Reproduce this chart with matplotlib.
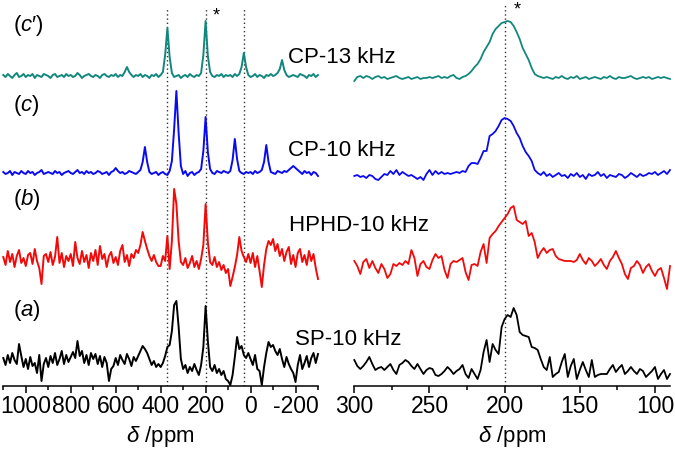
import numpy as np
import matplotlib
matplotlib.use('Agg')
from matplotlib import pyplot as plt

plt.rcParams['font.family'] = ['Liberation Sans', 'DejaVu Sans']
plt.rcParams['mathtext.fontset'] = 'custom'
plt.rcParams['mathtext.it'] = 'Liberation Sans:italic'
plt.rcParams['mathtext.rm'] = 'Liberation Sans'
plt.rcParams['axes.unicode_minus'] = False

# wide scan: 1100 .. -300 ppm, one point every 10 ppm
ppm_wide = np.linspace(1100, -300, 141)
# isotropic region: 300 .. 90 ppm, one point every 2 ppm
ppm_zoom = np.linspace(300, 90, 106)

labels = ["CP-13 kHz", "CP-10 kHz", "HPHD-10 kHz", "SP-10 kHz"]
panel_tags = ["c′", "c", "b", "a"]
colors = ["#12877d", "#0a0af0", "#f20a0a", "#000000"]

# intensities (arbitrary units), top trace first
wide_cp13 = [1, -1, 2, 0, -2, 1, 3, -1, 0, 2,
             -1, 1, 0, 2, -2, 1, 0, -1, 2, 1,
             0, -2, 1, 2, -1, 0, 1, -1, 2, 0,
             1, -1, 0, 3, 1, -2, 0, 1, 2, 0,
             -1, 1, 0, -2, 1, 2, 0, -1, 1, 0,
             2, -1, 1, 0, 4, 9, 4, 1, -1, 1,
             0, 2, -1, 1, 0, -2, 1, 0, 2, -1,
             1, 4, 21, 48, 19, 3, -1, 0, 1, -2,
             0, 1, -1, 2, 0, -1, 1, 0, 3, 21,
             55, 20, 4, 0, -1, 1, 0, 2, -1, 1,
             0, 1, -1, 2, 0, 2, 9, 23, 9, 1,
             -1, 0, 2, -1, 1, 0, -2, 1, 0, 2,
             0, 1, 3, 7, 16, 6, 1, -1, 0, 1,
             0, -1, 2, 1, 0, -2, 1, 0, 2, -1, 1]
wide_cp10 = [1, -1, 0, 2, -2, 1, 0, -1, 2, 0,
             -1, 2, 0, 1, -2, 0, 1, 3, -1, 0,
             1, 0, -1, 2, 0, 1, -2, 0, 1, 2,
             0, -1, 1, 3, 0, 1, -1, 2, 0, 1,
             -1, 0, 2, 1, -1, 0, 1, -2, 1, 2,
             5, 2, 0, 1, -1, 0, 2, 1, 0, -1,
             1, 3, 11, 26, 11, 1, -1, 0, 1, -2,
             0, 1, -1, -2, 2, 12, 44, 82, 40, 7,
             -1, 2, -3, 0, 1, -2, 0, 1, 4, 22,
             56, 21, 4, 0, -1, 2, 1, 0, 2, 1,
             0, 2, 13, 34, 14, 2, 0, -1, 1, 0,
             1, -1, 2, 0, 1, 3, 11, 28, 11, 1,
             0, -1, 2, 1, 0, 2, 1, 3, 5, 7,
             5, 3, 1, -1, 2, 0, 1, -2, 1, 0, -3]
wide_hphd = [2, -6, 8, -3, 5, -8, 3, 9, -4, 1,
             -7, 4, 6, -5, 10, -2, -9, -25, 3, 5,
             -3, 7, -6, 2, 22, -4, 6, -8, 3, -2,
             5, -7, 17, 1, -5, 8, -3, 4, -9, 6,
             -2, 9, -6, 13, 0, 5, -8, 3, 7, -4,
             2, -6, 8, 14, -3, 4, -7, 5, 1, 9,
             6, 14, 27, 18, 10, 3, -2, 4, -3, -7,
             -7, 3, -2, 23, -10, 18, 70, 55, 18, -3,
             -6, 1, -9, -4, 3, -8, -2, -10, 0, 14,
             55, 17, -3, -6, 2, -8, -3, -11, -6, -14,
             -10, -27, -18, -8, 4, 22, 8, 2, -3, 5,
             -4, 6, -8, 3, -12, -28, -6, 10, 18, 14,
             20, 8, 15, 3, 10, -2, 7, 12, -5, 4,
             -8, 6, 10, -3, 4, -6, 8, -2, 5, -9, -20]
wide_sp = [3, -4, 6, -2, 8, 1, -3, 17, 5, -6,
           2, -8, 4, -5, -2, -12, 6, -20, -3, 3,
           -6, 5, -2, 8, -4, 2, 10, -3, 6, -1,
           4, 9, 3, 20, 5, 10, -2, 6, -4, 8,
           2, 7, -3, 5, -6, 4, -2, -20, -8, -5,
           3, -4, 6, 1, -3, 7, 2, -5, 4, 0,
           5, 10, 15, 12, 8, 2, -4, 0, -6, -3,
           -6, -2, 5, 14, 16, 30, 56, 60, 34, 2,
           -8, -4, -12, -6, -10, -3, -9, -14, -4, 14,
           55, 20, -6, -10, -4, -12, -8, -14, -10, -18,
           -20, -24, -14, 4, 24, 12, 15, 6, 3, 8,
           2, -4, 6, -8, -10, -24, -6, 8, 19, 14,
           16, 10, 6, 12, 2, -6, 4, -3, -8, -12,
           -21, -4, 6, -8, -2, 5, -6, 3, 8, -2, 7]

zoom_cp13 = [-3, 1, 2, 0, 2, 1, -1, 1, 2, 0,
             1, -1, 0, 1, 2, 0, -1, 0, 1, -1,
             0, 1, -1, 0, 0, 1, 0, 1, 2, 0,
             1, 0, 2, 3, 0, -1, 1, 2, 4, 7,
             11, 14, 19, 26, 31, 36, 44, 49, 52, 55,
             56, 57, 56, 52, 46, 39, 30, 24, 18, 10,
             4, 2, 1, 0, 1, 0, -1, 1, 0, 2,
             0, -1, 1, 0, 2, -1, 0, 1, -1, 0,
             1, 0, -1, 1, 0, 2, 0, -1, 1, 0,
             0, 1, 2, 0, -1, 0, 1, 0, 1, -1,
             0, 1, 0, 1, 0, -1]
zoom_cp10 = [0, 1, -1, 0, -2, 1, 0, -3, -4, -1,
             2, 1, 5, 2, 6, 1, 4, 2, 0, 1,
             -1, -3, -1, -4, 2, 6, 1, 5, 2, 4,
             2, 3, 2, 3, 4, 3, 5, 4, 10, 13,
             13, 12, 18, 25, 25, 40, 42, 45, 50, 56,
             58, 57, 55, 50, 43, 38, 30, 24, 20, 15,
             6, 3, 1, 4, 0, 2, -1, 1, 3, 0,
             1, -2, 2, 0, 3, -1, 1, -3, 2, 0,
             1, 4, 0, 2, -2, 1, 0, -1, 2, 1,
             -2, 0, 3, 1, -1, 2, 0, 1, 3, 2,
             4, 1, 3, 5, 2, 6]
zoom_hphd = [5, 0, -8, 4, 7, -2, 5, -2, -7, 2,
             -3, -12, -8, 2, 0, 3, 1, 5, 2, 16,
             8, -10, 2, 5, -1, -3, 6, 12, 8, 10,
             -4, -12, 2, 5, 4, 6, 8, -6, -14, 1,
             2, 0, 14, 22, 3, 28, 32, 35, 40, 44,
             48, 52, 58, 60, 46, 44, 42, 45, 30, 33,
             24, 8, 14, 18, 13, 16, 17, 10, 7, 6,
             5, 5, 5, 4, 6, 12, 6, 2, 8, 5,
             0, 3, 7, 1, -3, 5, 9, 15, 8, 2,
             -8, -13, -2, 0, 5, 1, -7, -1, 2, -5,
             -10, -4, -2, -12, -23, 0]
zoom_sp = [12, 6, 3, 6, 10, 15, 8, 2, 4, 5,
           2, 5, 8, 2, -2, 7, 9, 12, 10, 6,
           3, 8, 3, -2, 2, 4, 3, -3, -4, -2,
           1, 5, 2, -2, 1, 3, 7, -2, -6, 3,
           -2, -7, 2, 20, 32, 10, 28, 22, 18, 45,
           53, 57, 55, 64, 57, 40, 37, 36, 35, 25,
           24, 22, 13, 5, 2, 15, -5, -2, 0, 10,
           18, -5, 6, 13, -7, 2, 10, 2, -5, 12,
           -5, -3, -2, -2, -2, 3, 7, 0, 4, 7,
           -2, 1, 5, 1, -2, 3, 1, -5, -2, 1,
           5, -7, -2, 2, -7, -2]

wide_traces = [wide_cp13, wide_cp10, wide_hphd, wide_sp]
zoom_traces = [zoom_cp13, zoom_cp10, zoom_hphd, zoom_sp]
wide_offsets = [310, 213, 127, 25]
zoom_offsets = [308, 210, 120, 14]

fig = plt.figure(figsize=(6.75, 4.6), dpi=100)
ax1 = fig.add_axes([3.3 / 675, 73 / 460, 314.7 / 675, 382 / 460])
ax2 = fig.add_axes([354.3 / 675, 73 / 460, 315.7 / 675, 382 / 460])

for y, off, c in zip(wide_traces, wide_offsets, colors):
    ax1.plot(ppm_wide, np.array(y) + off, color=c, lw=1.4, clip_on=False)
for y, off, c in zip(zoom_traces, zoom_offsets, colors):
    ax2.plot(ppm_zoom, np.array(y) + off, color=c, lw=1.3, clip_on=False)

for x in [370, 197, 30]:
    ax1.axvline(x, ymax=0.99, color="#333333", lw=1, ls=(0, (1, 2)), zorder=0)
ax2.axvline(200, ymax=1.0, color="#333333", lw=1, ls=(0, (1, 2)), zorder=0)

ax1.set_xlim(1100, -300)
ax2.set_xlim(300, 90)
for ax in (ax1, ax2):
    ax.set_ylim(0, 382)
    ax.set_yticks([])
    for s in ("left", "right", "top"):
        ax.spines[s].set_visible(False)
    ax.spines["bottom"].set_linewidth(1.1)
    ax.tick_params(axis="x", which="major", length=5, width=1.1, pad=1, labelsize=16.5)
    ax.tick_params(axis="x", which="minor", length=3, width=1.1)
    ax.patch.set_visible(False)

ax1.set_xticks([1000, 800, 600, 400, 200, 0, -200])
ax1.set_xticklabels(["1000", "800", "600", "400", "200", "0", "-200"])
ax1.set_xticks([1100, 900, 700, 500, 300, 100, -100, -300], minor=True)
ax2.set_xticks([300, 250, 200, 150, 100])
ax2.set_xticks([275, 225, 175, 125], minor=True)

fig.text(160 / 675, 1 - 437 / 460, r"$\delta$ /ppm", ha="center", va="center", fontsize=16)
fig.text(512 / 675, 1 - 437 / 460, r"$\delta$ /ppm", ha="center", va="center", fontsize=16)

tag_y = [25, 106, 199, 311]
for t, y in zip(panel_tags, tag_y):
    fig.text(13 / 675, 1 - y / 460, "($" + t[0] + "$" + t[1:] + ")", ha="left", va="center", fontsize=16)

label_x = [288, 288, 289, 295]
label_base = [63, 156, 231, 345]
for s, x, y in zip(labels, label_x, label_base):
    fig.text(x / 675, 1 - y / 460, s, ha="left", va="baseline", fontsize=16)

fig.text(216 / 675, 1 - 16 / 460, "*", ha="center", va="center", fontsize=13)
fig.text(517 / 675, 1 - 10 / 460, "*", ha="center", va="center", fontsize=13)

fig.savefig("out.png", dpi=100)
